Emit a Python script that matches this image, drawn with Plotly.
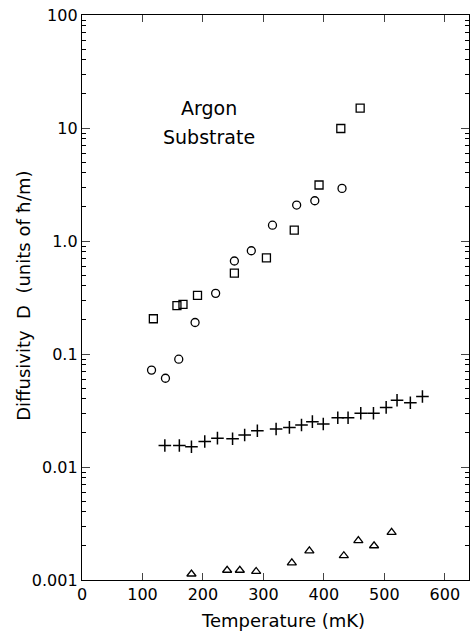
import plotly.graph_objects as go

# Squares
sq_T = [118, 157, 167, 191, 252, 305, 351, 392, 428, 460]
sq_D = [0.205, 0.268, 0.275, 0.33, 0.52, 0.71, 1.25, 3.13, 9.9, 15.0]
# Circles
ci_T = [115, 138, 160, 187, 221, 252, 280, 315, 355, 385, 430]
ci_D = [0.072, 0.061, 0.090, 0.19, 0.344, 0.665, 0.82, 1.38, 2.08, 2.27, 2.92]
# Crosses
cr_T = [137, 161, 181, 203, 224, 249, 269, 290, 321, 343, 363, 381, 399, 423, 440, 461, 482, 503, 521, 543, 563]
cr_D = [0.0155, 0.0155, 0.0151, 0.0168, 0.0180, 0.0178, 0.0192, 0.0209, 0.0217, 0.0224, 0.0235,
        0.0252, 0.0240, 0.0273, 0.0273, 0.0299, 0.0299, 0.0337, 0.0390, 0.0370, 0.0420]
# Triangles
tr_T = [181, 240, 261, 288, 347, 376, 433, 457, 483, 512]
tr_D = [0.00113, 0.00122, 0.00122, 0.00119, 0.00142, 0.00181, 0.00164, 0.00223, 0.00201, 0.00264]

x_ticks = [0, 100, 200, 300, 400, 500, 600]
y_ticks = [0.001, 0.01, 0.1, 1, 10, 100]
y_ticktext = ["0.001", "0.01", "0.1", "1.0", "10", "100"]
minor_vals = [m * 10.0 ** e for e in range(-3, 2) for m in range(2, 10)]

FONT = "DejaVu Sans"
fig = go.Figure()
mk = dict(color="black", line=dict(color="black", width=1.3))
fig.add_trace(go.Scatter(x=sq_T, y=sq_D, mode="markers",
                         marker=dict(symbol="square-open", size=8, **mk)))
fig.add_trace(go.Scatter(x=ci_T, y=ci_D, mode="markers",
                         marker=dict(symbol="circle-open", size=8, **mk)))
fig.add_trace(go.Scatter(x=cr_T, y=cr_D, mode="markers",
                         marker=dict(symbol="cross-thin-open", size=9, color="black",
                                     line=dict(color="black", width=1.5))))
fig.add_trace(go.Scatter(x=tr_T, y=tr_D, mode="markers",
                         marker=dict(symbol="triangle-up-open", size=8, **mk)))

fig.add_annotation(x=210, y=1.177, xref="x", yref="y", text="Argon",
                   xanchor="center", yanchor="middle",
                   showarrow=False, font=dict(family=FONT, size=19, color="black"))
fig.add_annotation(x=210, y=0.92, xref="x", yref="y", text="Substrate",
                   xanchor="center", yanchor="middle",
                   showarrow=False, font=dict(family=FONT, size=19, color="black"))
# axis titles
fig.add_annotation(x=0.519, y=-0.0708, xref="paper", yref="paper", text="Temperature (mK)",
                   xanchor="center", yanchor="middle",
                   showarrow=False, font=dict(family=FONT, size=18, color="black"))
fig.add_annotation(x=-0.150, y=0.503, xref="paper", yref="paper",
                   text="Diffusivity  D  (units of ħ/m)", textangle=-90,
                   xanchor="center", yanchor="middle",
                   showarrow=False, font=dict(family=FONT, size=18, color="black"))

fig.update_layout(
    width=471, height=631,
    margin=dict(l=82, r=2, t=15, b=51),
    paper_bgcolor="white", plot_bgcolor="white",
    showlegend=False,
    font=dict(family=FONT, size=16, color="black"),
)
fig.update_xaxes(range=[0, 640], tickvals=x_ticks, ticks="inside", ticklen=7, tickwidth=1.3,
                 showline=True, linecolor="black", linewidth=1.3, mirror="ticks",
                 showgrid=False, zeroline=False, tickfont=dict(size=16))
fig.update_yaxes(type="log", range=[-3, 2], tickvals=y_ticks, ticktext=y_ticktext,
                 ticks="inside", ticklen=8, tickwidth=1.3,
                 minor=dict(tickvals=minor_vals, ticks="inside", ticklen=4, tickwidth=1, tickcolor="black"),
                 showline=True, linecolor="black", linewidth=1.3, mirror="ticks",
                 showgrid=False, zeroline=False, tickfont=dict(size=16))

fig.write_html("out.html")
